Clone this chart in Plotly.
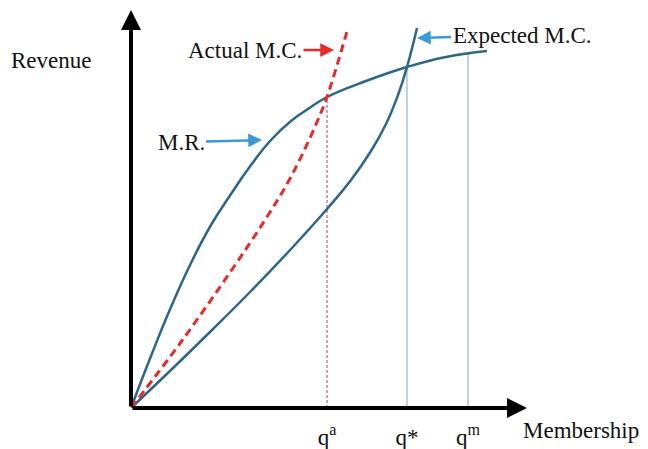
import plotly.graph_objects as go

# ---- data (arbitrary units) ----
mr_x = [0, 2, 4, 6, 8, 10, 12, 14, 16, 18, 19.6, 23.5, 27.6, 31.5, 35.6]
mr_y = [0, 5.2, 10.1, 14.5, 18.3, 21.4, 24.3, 26.8, 28.7, 30.1, 31.1, 32.7, 34.1, 35.1, 35.7]

amc_x = [0, 5, 10, 13.4, 15.6, 17.2, 18.6, 19.6, 21.7]
amc_y = [0, 6.6, 13.7, 18.8, 22.4, 25.5, 28.6, 31.1, 38.0]

emc_x = [0, 4, 8, 12, 16, 19.6, 22, 24, 25.5, 26.7, 27.6, 28.6]
emc_y = [0, 3.8, 7.7, 11.7, 15.9, 19.9, 22.8, 25.7, 28.4, 31.3, 34.1, 38.0]

q_vals = [19.6, 27.6, 33.7]          # q^a, q*, q^m
q_tops = [31.1, 34.1, 35.45]         # where the drop lines meet M.R.
q_labels = ["q<sup>a</sup>", "q*", "q<sup>m</sup>"]

X_MAX, Y_MAX = 40, 40
X_TIP, Y_TIP = 39.6, 39.8

FONT = "Liberation Serif"
BLUE = "#2c6688"
RED = "#e62a2a"
ARROW_BLUE = "#3b9ad6"
FS = 23

fig = go.Figure()

# drop lines
fig.add_trace(go.Scatter(x=[q_vals[0], q_vals[0]], y=[0, q_tops[0]], mode="lines",
                         line=dict(color="#9a4b5e", width=1, dash="3px,2px"),
                         hoverinfo="skip", showlegend=False))
for qv, qt in zip(q_vals[1:], q_tops[1:]):
    fig.add_trace(go.Scatter(x=[qv, qv], y=[0, qt], mode="lines",
                             line=dict(color="#a9c4d4", width=1.5),
                             hoverinfo="skip", showlegend=False))

# curves
fig.add_trace(go.Scatter(x=emc_x, y=emc_y, mode="lines", name="Expected M.C.",
                         line=dict(color=BLUE, width=2.5, shape="spline", smoothing=1.3),
                         showlegend=False))
fig.add_trace(go.Scatter(x=mr_x, y=mr_y, mode="lines", name="M.R.",
                         line=dict(color=BLUE, width=2.5, shape="spline", smoothing=1.3),
                         showlegend=False))
fig.add_trace(go.Scatter(x=amc_x, y=amc_y, mode="lines", name="Actual M.C.",
                         line=dict(color=RED, width=3, dash="8px,5px", shape="spline", smoothing=1.0),
                         showlegend=False))

ann = []
# axes with arrowheads
ann.append(dict(x=X_TIP, y=0, ax=0, ay=0, xref="x", yref="y", axref="x", ayref="y",
                text="", showarrow=True, arrowhead=2, arrowsize=1, arrowwidth=4, arrowcolor="black"))
ann.append(dict(x=0, y=Y_TIP, ax=0, ay=0, xref="x", yref="y", axref="x", ayref="y",
                text="", showarrow=True, arrowhead=2, arrowsize=1, arrowwidth=4, arrowcolor="black"))

tf = dict(family=FONT, size=FS, color="#111111")
# curve labels with arrows
ann.append(dict(x=20.3, y=35.8, ax=11.4, ay=35.8, xref="x", yref="y", axref="x", ayref="y",
                text="Actual M.C.", font=tf, showarrow=True, arrowhead=2, arrowsize=1.1,
                arrowwidth=2.5, arrowcolor=RED))
ann.append(dict(x=13.1, y=26.8, ax=5.0, ay=26.6, xref="x", yref="y", axref="x", ayref="y",
                text="M.R.", font=tf, showarrow=True, arrowhead=2, arrowsize=1.1,
                arrowwidth=2.5, arrowcolor=ARROW_BLUE))
ann.append(dict(x=28.6, y=37.0, ax=39.1, ay=37.3, xref="x", yref="y", axref="x", ayref="y",
                text="Expected M.C.", font=tf, showarrow=True, arrowhead=2, arrowsize=1.1,
                arrowwidth=2.5, arrowcolor=ARROW_BLUE))
# axis titles (paper coordinates so they are drawn outside the plot area)
ann.append(dict(x=-0.20, y=0.87, xref="paper", yref="paper", text="Revenue", font=tf,
                showarrow=False, xanchor="center", yanchor="middle"))
ann.append(dict(x=1.125, y=-0.055, xref="paper", yref="paper", text="Membership", font=tf,
                showarrow=False, xanchor="center", yanchor="middle"))

fig.update_layout(
    # the page body has an 8px margin; size the figure so it fits the 648x449 window
    width=640, height=441,
    margin=dict(l=123, r=117, t=0, b=41),
    paper_bgcolor="white", plot_bgcolor="white",
    annotations=ann,
    xaxis=dict(range=[0, X_MAX], showgrid=False, zeroline=False, showline=False,
               tickmode="array", tickvals=q_vals, ticktext=q_labels, ticks="",
               tickfont=dict(family=FONT, size=FS, color="#111111"),
               ticklabelstandoff=13, fixedrange=True),
    yaxis=dict(range=[0, Y_MAX], showgrid=False, zeroline=False, showline=False,
               showticklabels=False, ticks="", fixedrange=True),
)

fig.write_html("out.html")
